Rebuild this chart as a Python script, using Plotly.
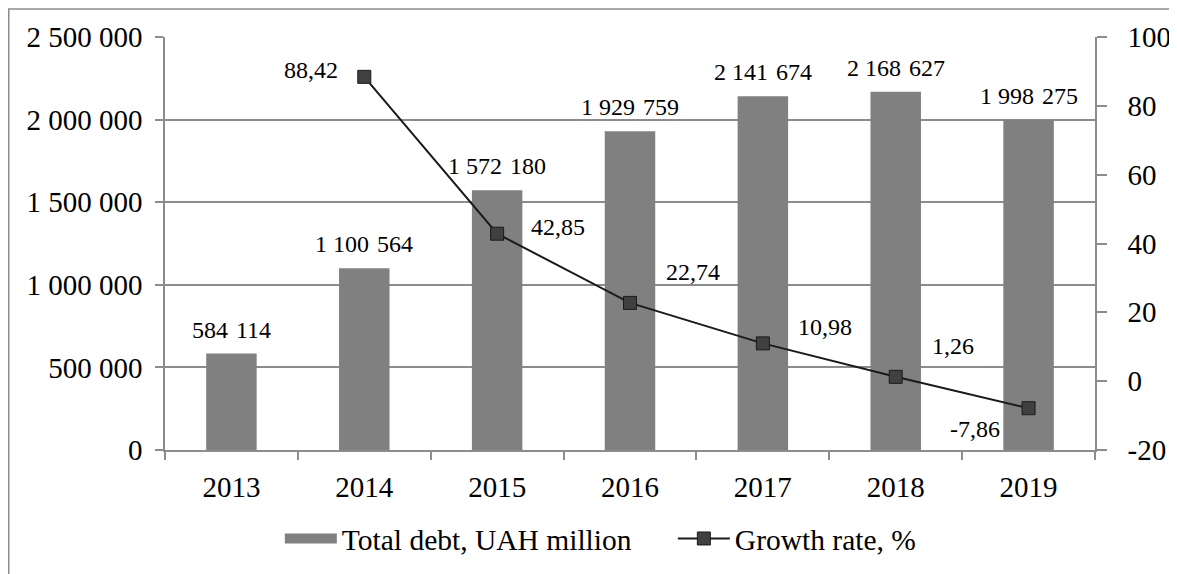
import plotly.graph_objects as go

years = ["2013", "2014", "2015", "2016", "2017", "2018", "2019"]
total_debt = [584114, 1100564, 1572180, 1929759, 2141674, 2168627, 1998275]
debt_labels = ["584 \u200a114", "1 100 \u200a564", "1 572 \u200a180", "1 929 \u200a759",
               "2 141 \u200a674", "2 168 \u200a627", "1 998 \u200a275"]
growth_years = ["2014", "2015", "2016", "2017", "2018", "2019"]
growth_rate = [88.42, 42.85, 22.74, 10.98, 1.26, -7.86]
growth_labels = ["88,42", "42,85", "22,74", "10,98", "1,26", "-7,86"]

left_ticks = [0, 500000, 1000000, 1500000, 2000000, 2500000]
left_ticktext = ["0", "500 000", "1 000 000", "1 500 000", "2 000 000", "2 500 000"]
right_ticks = [-20, 0, 20, 40, 60, 80, 100]
right_ticktext = ["-20", "0", "20", "40", "60", "80", "100"]

FONT = "Liberation Serif"
GRID = "#8c8c8c"
BAR = "#808080"
TICK_SIZE = 29
LABEL_SIZE = 24

fig = go.Figure()

fig.add_trace(go.Bar(
    x=years, y=total_debt,
    name="Total debt, UAH million",
    marker=dict(color=BAR, line=dict(width=0)),
    width=0.38, showlegend=False,
))
# legend stand-in: a wide flat swatch like the original
fig.add_trace(go.Scatter(
    x=[None], y=[None], mode="lines", name="Total debt, UAH million",
    line=dict(color=BAR, width=16),
))

fig.add_trace(go.Scatter(
    x=growth_years, y=growth_rate,
    name="Growth rate, %",
    yaxis="y2", mode="lines+markers",
    line=dict(color="#1a1a1a", width=2),
    marker=dict(symbol="square", size=13, color="#404040",
                line=dict(color="#1a1a1a", width=1)),
))

# bar value labels above the bars (category axes take the serial index)
for i, (v, lab) in enumerate(zip(total_debt, debt_labels)):
    fig.add_annotation(x=i, y=v, xref="x", yref="y", text=lab, showarrow=False,
                       yanchor="bottom", yshift=9,
                       font=dict(family=FONT, size=LABEL_SIZE, color="black"))

# growth labels, offset (px) as in the original
offsets = [(-53, 7), (61, 7), (63, 31), (62, 16), (57, 31), (-54, -21)]
for yr, g, lab, (dx, dy) in zip(growth_years, growth_rate, growth_labels, offsets):
    fig.add_annotation(x=years.index(yr), y=g, xref="x", yref="y2", text=lab, showarrow=False,
                       xshift=dx, yshift=dy,
                       font=dict(family=FONT, size=LABEL_SIZE, color="black"))

fig.update_layout(
    width=1169, height=566,
    margin=dict(l=157, r=82, t=29, b=124, autoexpand=False),
    paper_bgcolor="white", plot_bgcolor="white",
    font=dict(family=FONT, size=TICK_SIZE, color="black"),
    showlegend=True,
    legend=dict(orientation="h", x=0.1235, xanchor="left", y=-0.215, yanchor="middle",
                font=dict(family=FONT, size=29.5), itemwidth=52, entrywidth=326,
                traceorder="normal"),
    xaxis=dict(type="category", range=[-0.5, 6.5], showgrid=False, showline=True,
               linecolor=GRID, linewidth=1.5, automargin=False,
               ticks="outside", tickson="boundaries", ticklen=8, tickcolor=GRID, tickwidth=1.5,
               ticklabelstandoff=10,
               tickfont=dict(family=FONT, size=TICK_SIZE)),
    yaxis=dict(range=[0, 2500000], tickvals=left_ticks, ticktext=left_ticktext,
               showgrid=True, gridcolor=GRID, gridwidth=1.5, zeroline=False,
               showline=True, linecolor=GRID, linewidth=1.5, automargin=False,
               ticks="outside", ticklen=8, tickcolor=GRID, tickwidth=1.5,
               ticklabelstandoff=7,
               tickfont=dict(family=FONT, size=TICK_SIZE)),
    yaxis2=dict(range=[-20, 100], tickvals=right_ticks, ticktext=right_ticktext,
                overlaying="y", side="right", automargin=False,
                showgrid=False, zeroline=False, showline=True, linecolor=GRID, linewidth=1.5,
                ticks="outside", ticklen=10, tickcolor=GRID, tickwidth=1.5,
                ticklabelstandoff=15,
                tickfont=dict(family=FONT, size=TICK_SIZE)),
    shapes=[dict(type="rect", xref="paper", yref="paper",
                 x0=-0.168, y0=-0.5, x1=1.3, y1=1.068,
                 line=dict(color=GRID, width=1.5), fillcolor="rgba(0,0,0,0)")],
)

fig.write_html("out.html")
